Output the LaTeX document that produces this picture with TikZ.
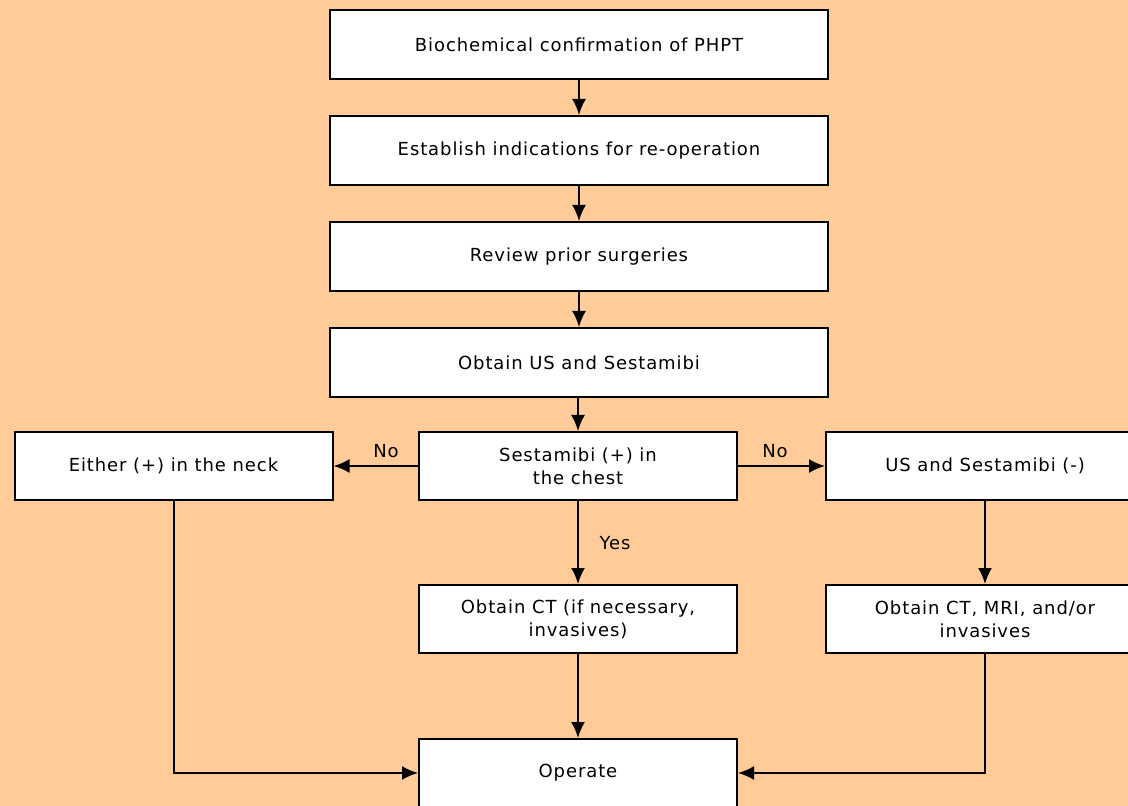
\documentclass[tikz,border=0pt]{standalone}
\usepackage{fontspec}
\setmainfont{DejaVu Sans}[LetterSpace=5]
\usetikzlibrary{arrows.meta}
\definecolor{bg}{HTML}{FFCC99}
\begin{document}
\begin{tikzpicture}[x=0.5pt,y=-0.5pt,
  box/.style={draw=black, fill=white, line width=1pt, align=center, inner sep=0pt,
    font=\fontsize{9}{11.5}\selectfont},
  wide/.style={box, minimum width=249pt, minimum height=34.5pt},
  narrow/.style={box, minimum width=159pt, minimum height=34pt},
  arr/.style={line width=1pt, -{Latex[length=8pt,width=7pt]}},
  lbl/.style={font=\fontsize{9}{11}\selectfont, inner sep=1pt}]
\path[use as bounding box, fill=bg] (0,0) rectangle (1128,806);
\clip (0,0) rectangle (1128,806);
\node[wide] (b1) at (579,44.5) {Biochemical confirmation of PHPT};
\node[wide] (b2) at (579,150.5) {Establish indications for re-operation};
\node[wide] (b3) at (579,256.5) {Review prior surgeries};
\node[wide] (b4) at (579,362.5) {Obtain US and Sestamibi};
\node[narrow] (ses) at (578,466) {Sestamibi (+) in\\the chest};
\node[narrow] (either) at (173.5,466) {Either (+) in the neck};
\node[narrow] (us) at (985,466) {US and Sestamibi (-)};
\node[narrow] (ct) at (578,619) {Obtain CT (if necessary,\\invasives)};
\node[narrow] (mri) at (985,619) {Obtain CT, MRI, and/or\\invasives};
\node[narrow] (op) at (578,773) {Operate};
\draw[arr] (b1) -- (b2);
\draw[arr] (b2) -- (b3);
\draw[arr] (b3) -- (b4);
\draw[arr] (b4.south -| ses.north) -- (ses.north);
\draw[arr] (ses.west) -- (either.east);
\draw[arr] (ses.east) -- (us.west);
\draw[arr] (ses) -- (ct);
\draw[arr] (us) -- (mri);
\draw[arr] (ct) -- (op);
\draw[arr] (either.south) |- (op.west);
\draw[arr] (mri.south) |- (op.east);
\node[lbl] (no1) at (386,451) {No};
\node[lbl] (no2) at (775,451) {No};
\node[lbl] (yes) at (615,543) {Yes};
\end{tikzpicture}
\end{document}
